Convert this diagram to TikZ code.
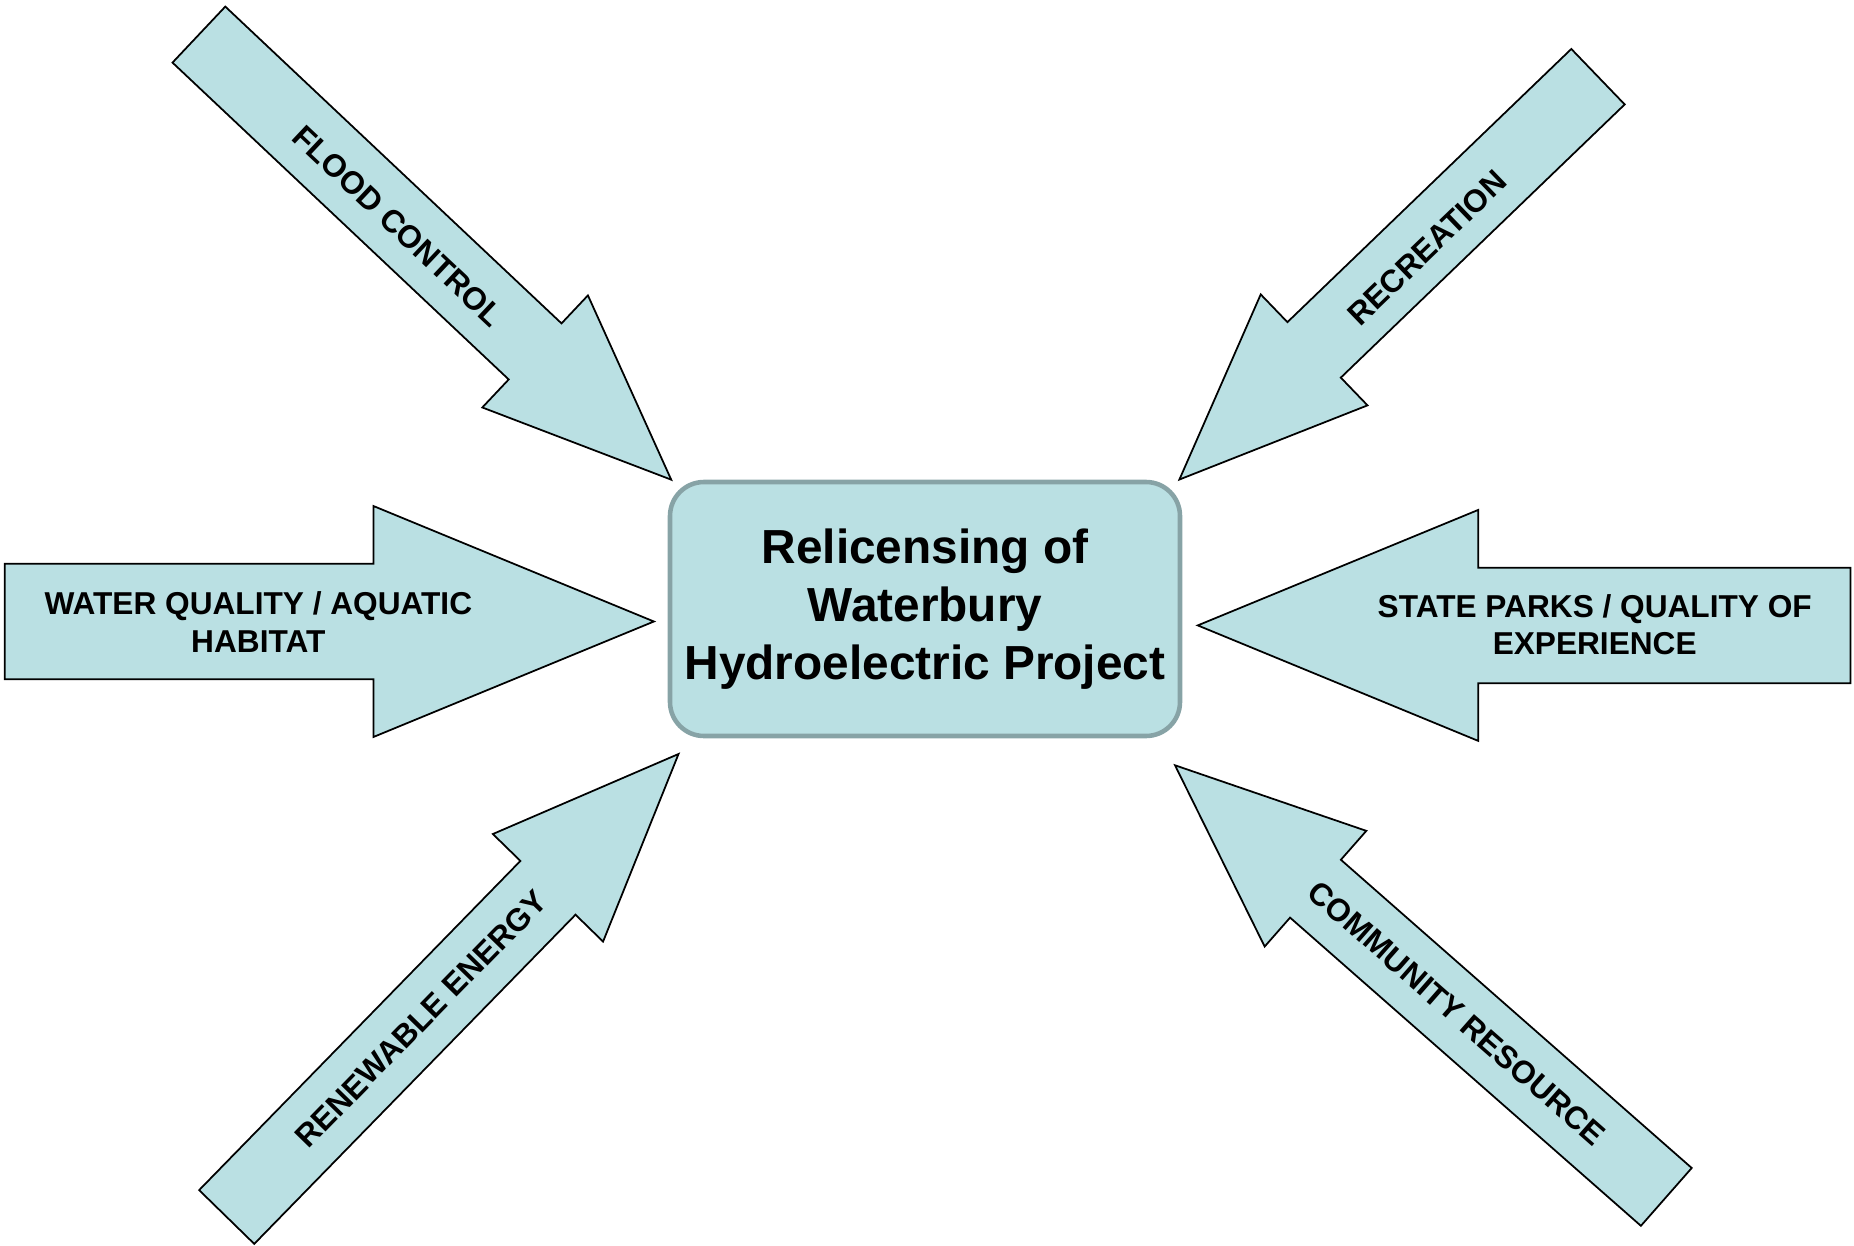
\documentclass[tikz,border=0pt]{standalone}
\usepackage{fontspec}
\setmainfont{Liberation Sans}
\definecolor{paleAqua}{RGB}{186, 224, 227}
\definecolor{slateTeal}{RGB}{135, 163, 166}
\usetikzlibrary{positioning}

\tikzset{
    arrowbody/.style={draw=black, fill=paleAqua, line width=0.5pt, line join=miter},
    % block arrow pointing along +x, #1 = total length
    pics/inarrow/.style={code={
        \draw[arrowbody] (0,38.5) -- (#1-187,38.5) -- (#1-187,77) -- (#1,0)
            -- (#1-187,-77) -- (#1-187,-38.5) -- (0,-38.5) -- cycle;
    }},
    lbl/.style={font=\fontsize{9}{10.6}\selectfont\bfseries, align=center, inner sep=0pt},
}

\begin{document}
\begin{tikzpicture}[x=0.1mm, y=0.1mm]
    \useasboundingbox (0,0) rectangle (1854,-1246);

    % the six arrows
    \pic[rotate=-43.3] at (198.9,-34.6) {inarrow=649};
    \pic[rotate=223.9] at (1598,-76.7) {inarrow=581};
    \pic[rotate=45.7] at (226.7,-1217) {inarrow=647};
    \pic[rotate=138.7] at (1666.3,-1196.9) {inarrow=654};
    \pic[scale=1.5] at (4.7,-621.5) {inarrow=432.8};
    \pic[scale=1.5, rotate=180] at (1850.4,-625.4) {inarrow=435.1};

    \node[rectangle, rounded corners=0.34cm, draw=slateTeal, line width=1.3pt, fill=paleAqua, minimum width=5.1cm, minimum height=2.54cm, align=center, font=\fontsize{13.6}{16.6}\selectfont\bfseries] (proj) at (925,-609) {Relicensing of\\Waterbury\\Hydroelectric Project};

    \node[lbl, rotate=-43.3] (flood) at (398,-226) {FLOOD CONTROL};
    \node[lbl, rotate=43.9] (recr) at (1427,-248) {RECREATION};
    \node[lbl, rotate=45.7] (renew) at (421,-1019) {RENEWABLE ENERGY};
    \node[lbl, rotate=-41.3] (commun) at (1456.7,-1013.3) {COMMUNITY RESOURCE};
    \node[lbl] (water) at (258.3,-622) {WATER QUALITY / AQUATIC\\HABITAT};
    \node[lbl] (parks) at (1594.7,-625) {STATE PARKS / QUALITY OF\\EXPERIENCE};
\end{tikzpicture}
\end{document}
